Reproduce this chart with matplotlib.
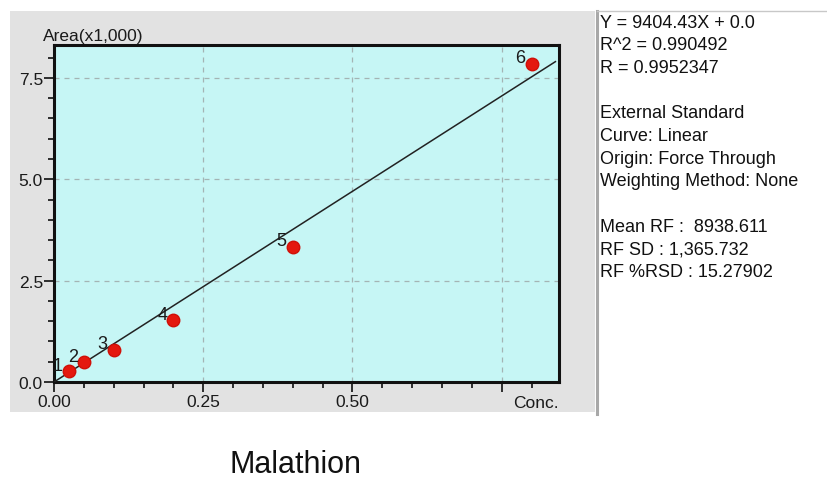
import matplotlib
matplotlib.use("Agg")
import matplotlib.pyplot as plt
from matplotlib.patches import Rectangle
from matplotlib.lines import Line2D
from matplotlib.ticker import MultipleLocator, FixedLocator

plt.rcParams['font.family'] = ['Liberation Sans', 'DejaVu Sans']

# calibration points (conc, area x1000)
conc = [0.025, 0.05, 0.1, 0.2, 0.4, 0.8]
area = [0.27, 0.49, 0.79, 1.52, 3.33, 7.85]
labels = ['1', '2', '3', '4', '5', '6']
slope = 9.40443  # area(x1000) per conc unit

info_lines = ['Y = 9404.43X + 0.0', 'R^2 = 0.990492', 'R = 0.9952347', '',
              'External Standard', 'Curve: Linear', 'Origin: Force Through',
              'Weighting Method: None', '',
              'Mean RF :  8938.611', 'RF SD : 1,365.732', 'RF %RSD : 15.27902']

W, H = 827, 481
fig = plt.figure(figsize=(W / 100, H / 100), dpi=100)
fig.patch.set_facecolor('white')

# grey panel behind the plot
fig.patches.append(Rectangle((10 / W, 1 - 413 / H), 585 / W, 401 / H,
                             transform=fig.transFigure, facecolor='#e2e2e2',
                             edgecolor='none', zorder=-10))
# separator of the info panel
fig.lines.append(Line2D([597 / W, 597 / W], [1 - 415 / H, 1 - 12 / H],
                        transform=fig.transFigure, color='#a8a8a8', lw=2.2))
fig.lines.append(Line2D([597 / W, 1], [1 - 12 / H, 1 - 12 / H],
                        transform=fig.transFigure, color='#c8c8c8', lw=1))

ax = fig.add_axes([54 / W, 1 - 383 / H, 505 / W, 337 / H])
ax.set_facecolor('#c6f6f5')
ax.set_xlim(0, 0.846)
ax.set_ylim(0, 8.31)

ax.xaxis.set_major_locator(FixedLocator([0, 0.25, 0.5, 0.75]))
ax.xaxis.set_minor_locator(MultipleLocator(0.05))
ax.yaxis.set_major_locator(FixedLocator([0, 2.5, 5.0, 7.5]))
ax.yaxis.set_minor_locator(MultipleLocator(0.5))
ax.set_xticklabels(['0.00', '0.25', '0.50', ''])
ax.set_yticklabels(['0.0', '2.5', '5.0', '7.5'])
ax.tick_params(which='major', direction='out', length=7, width=1.3,
               color='#202020', labelsize=12.5, labelcolor='#1a1a1a', pad=1)
ax.tick_params(which='minor', direction='out', length=4.5, width=1.3,
               color='#202020')
ax.tick_params(axis='x', which='major', pad=2)
for s in ax.spines.values():
    s.set_linewidth(2.2)
    s.set_color('#111111')

ax.grid(True, which='major', color='#a4b4b4', linestyle=(0, (4, 4)), lw=0.9)
ax.set_axisbelow(True)

# regression line forced through origin
ax.plot([0, 0.84], [0, slope * 0.84], color='#222222', lw=1.1, zorder=3)
ax.plot(conc, area, 'o', color='#e4180e', mec='#d01008', ms=9, zorder=4,
        clip_on=False)
for x, y, t in zip(conc, area, labels):
    ax.annotate(t, (x, y), xytext=(-11, 6), textcoords='offset pixels',
                ha='center', va='center', fontsize=13, color='#1a1a1a',
                zorder=5, annotation_clip=False)

fig.text(43 / W, 1 - 36 / H, 'Area(x1,000)', fontsize=12.5, color='#1a1a1a',
         ha='left', va='center')
fig.text(559 / W, 1 - 404 / H, 'Conc.', fontsize=12.5, color='#1a1a1a',
         ha='right', va='center')

for i, line in enumerate(info_lines):
    if line:
        fig.text(600 / W, 1 - (23 + i * 22.7) / H, line, fontsize=13,
                 color='#111111', ha='left', va='center')

fig.text(296 / W, 1 - 465 / H, 'Malathion', fontsize=22, color='#111111',
         ha='center', va='center')

fig.savefig('out.png', dpi=100)
